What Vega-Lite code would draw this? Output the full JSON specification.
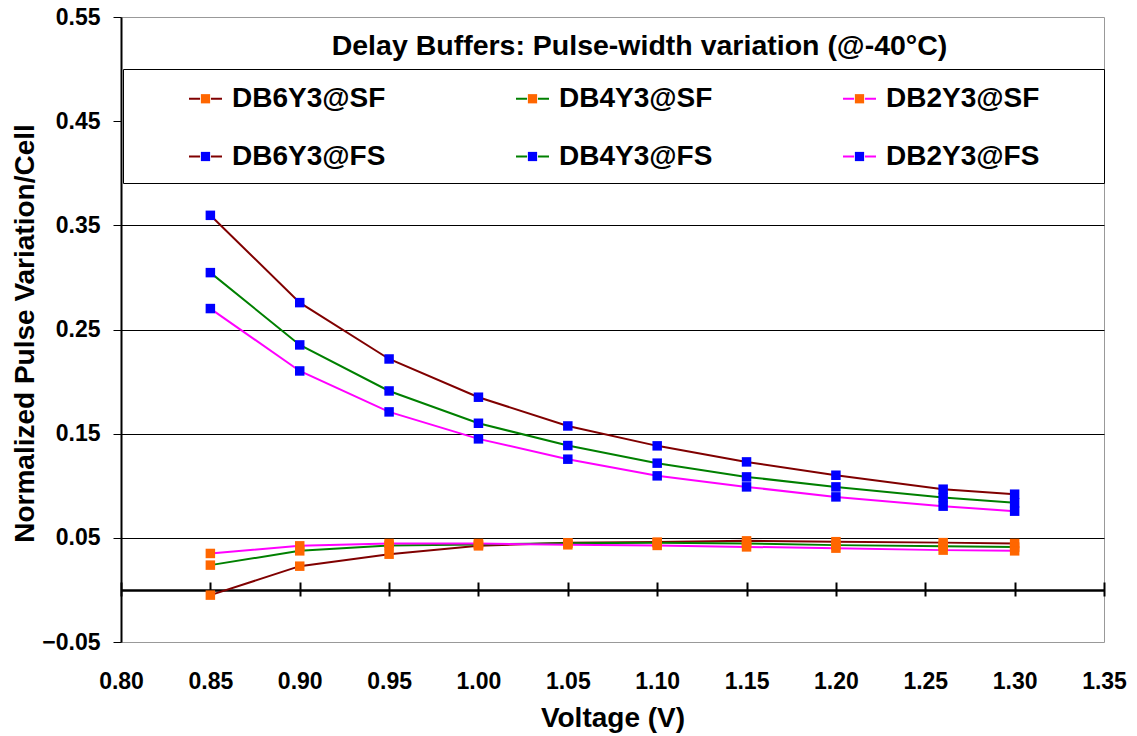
{
  "$schema": "https://vega.github.io/schema/vega-lite/v6.json",
  "width": 983,
  "height": 625,
  "autosize": {"type": "none"},
  "padding": {"left": 121, "top": 17, "right": 33, "bottom": 94},
  "background": "white",
  "title": {
    "text": "Delay Buffers: Pulse-width variation (@-40°C)",
    "orient": "top",
    "anchor": "middle",
    "offset": -77,
    "dx": 27,
    "baseline": "alphabetic",
    "font": "Liberation Sans",
    "fontSize": 28.5,
    "fontWeight": "bold",
    "color": "black"
  },
  "data": {
    "values": [
      {"V": 0.85, "value": -0.005, "series": "DB6Y3@SF"},
      {"V": 0.90, "value": 0.0228, "series": "DB6Y3@SF"},
      {"V": 0.95, "value": 0.0343, "series": "DB6Y3@SF"},
      {"V": 1.00, "value": 0.0423, "series": "DB6Y3@SF"},
      {"V": 1.05, "value": 0.0452, "series": "DB6Y3@SF"},
      {"V": 1.10, "value": 0.0459, "series": "DB6Y3@SF"},
      {"V": 1.15, "value": 0.0471, "series": "DB6Y3@SF"},
      {"V": 1.20, "value": 0.0463, "series": "DB6Y3@SF"},
      {"V": 1.26, "value": 0.0454, "series": "DB6Y3@SF"},
      {"V": 1.30, "value": 0.0446, "series": "DB6Y3@SF"},
      {"V": 0.85, "value": 0.0238, "series": "DB4Y3@SF"},
      {"V": 0.90, "value": 0.0375, "series": "DB4Y3@SF"},
      {"V": 0.95, "value": 0.0427, "series": "DB4Y3@SF"},
      {"V": 1.00, "value": 0.0435, "series": "DB4Y3@SF"},
      {"V": 1.05, "value": 0.0449, "series": "DB4Y3@SF"},
      {"V": 1.10, "value": 0.0452, "series": "DB4Y3@SF"},
      {"V": 1.15, "value": 0.0446, "series": "DB4Y3@SF"},
      {"V": 1.20, "value": 0.0430, "series": "DB4Y3@SF"},
      {"V": 1.26, "value": 0.0420, "series": "DB4Y3@SF"},
      {"V": 1.30, "value": 0.0411, "series": "DB4Y3@SF"},
      {"V": 0.85, "value": 0.0350, "series": "DB2Y3@SF"},
      {"V": 0.90, "value": 0.0423, "series": "DB2Y3@SF"},
      {"V": 0.95, "value": 0.0446, "series": "DB2Y3@SF"},
      {"V": 1.00, "value": 0.0446, "series": "DB2Y3@SF"},
      {"V": 1.05, "value": 0.0433, "series": "DB2Y3@SF"},
      {"V": 1.10, "value": 0.0427, "series": "DB2Y3@SF"},
      {"V": 1.15, "value": 0.0413, "series": "DB2Y3@SF"},
      {"V": 1.20, "value": 0.0401, "series": "DB2Y3@SF"},
      {"V": 1.26, "value": 0.0382, "series": "DB2Y3@SF"},
      {"V": 1.30, "value": 0.0375, "series": "DB2Y3@SF"},
      {"V": 0.85, "value": 0.3596, "series": "DB6Y3@FS"},
      {"V": 0.90, "value": 0.2758, "series": "DB6Y3@FS"},
      {"V": 0.95, "value": 0.2217, "series": "DB6Y3@FS"},
      {"V": 1.00, "value": 0.1850, "series": "DB6Y3@FS"},
      {"V": 1.05, "value": 0.1574, "series": "DB6Y3@FS"},
      {"V": 1.10, "value": 0.1383, "series": "DB6Y3@FS"},
      {"V": 1.15, "value": 0.1229, "series": "DB6Y3@FS"},
      {"V": 1.20, "value": 0.1101, "series": "DB6Y3@FS"},
      {"V": 1.26, "value": 0.0967, "series": "DB6Y3@FS"},
      {"V": 1.30, "value": 0.0919, "series": "DB6Y3@FS"},
      {"V": 0.85, "value": 0.3046, "series": "DB4Y3@FS"},
      {"V": 0.90, "value": 0.2352, "series": "DB4Y3@FS"},
      {"V": 0.95, "value": 0.1910, "series": "DB4Y3@FS"},
      {"V": 1.00, "value": 0.1600, "series": "DB4Y3@FS"},
      {"V": 1.05, "value": 0.1386, "series": "DB4Y3@FS"},
      {"V": 1.10, "value": 0.1217, "series": "DB4Y3@FS"},
      {"V": 1.15, "value": 0.1085, "series": "DB4Y3@FS"},
      {"V": 1.20, "value": 0.0989, "series": "DB4Y3@FS"},
      {"V": 1.26, "value": 0.0887, "series": "DB4Y3@FS"},
      {"V": 1.30, "value": 0.0836, "series": "DB4Y3@FS"},
      {"V": 0.85, "value": 0.2701, "series": "DB2Y3@FS"},
      {"V": 0.90, "value": 0.2102, "series": "DB2Y3@FS"},
      {"V": 0.95, "value": 0.1709, "series": "DB2Y3@FS"},
      {"V": 1.00, "value": 0.1450, "series": "DB2Y3@FS"},
      {"V": 1.05, "value": 0.1255, "series": "DB2Y3@FS"},
      {"V": 1.10, "value": 0.1095, "series": "DB2Y3@FS"},
      {"V": 1.15, "value": 0.0989, "series": "DB2Y3@FS"},
      {"V": 1.20, "value": 0.0893, "series": "DB2Y3@FS"},
      {"V": 1.26, "value": 0.0804, "series": "DB2Y3@FS"},
      {"V": 1.30, "value": 0.0756, "series": "DB2Y3@FS"}
    ]
  },
  "encoding": {
    "x": {
      "field": "V", "type": "quantitative",
      "scale": {"domain": [0.8, 1.35], "nice": false, "zero": false},
      "axis": {
        "orient": "bottom", "offset": -60,
        "values": [0.8, 0.85, 0.9, 0.95, 1.0, 1.05, 1.1, 1.15, 1.2, 1.25, 1.3, 1.35],
        "format": ".2f",
        "domain": false, "grid": false,
        "ticks": true, "tickSize": 14, "tickWidth": 2, "tickColor": "black",
        "labelFlush": false, "labelOverlap": false,
        "labelBaseline": "alphabetic", "labelPadding": 92,
        "labelFont": "Liberation Sans", "labelFontSize": 23, "labelFontWeight": "bold", "labelColor": "black",
        "title": "Voltage (V)",
        "titleFont": "Liberation Sans", "titleFontSize": 28, "titleFontWeight": "bold", "titleColor": "black",
        "titleBaseline": "alphabetic", "titleY": 144
      }
    },
    "y": {
      "field": "value", "type": "quantitative",
      "scale": {"domain": [-0.05, 0.55], "nice": false, "zero": false},
      "axis": {
        "values": [-0.05, 0, 0.05, 0.15, 0.25, 0.35, 0.45, 0.55],
        "format": ".2f",
        "labelExpr": "datum.value == 0 ? '' : datum.label",
        "domain": true, "domainColor": "black", "domainWidth": 2,
        "ticks": true, "tickSize": 8, "tickWidth": 1,
        "tickColor": {"condition": {"test": "datum.value == 0", "value": "transparent"}, "value": "black"},
        "grid": true,
        "gridColor": {"condition": {"test": "datum.value > 0.4 || datum.value < 0", "value": "transparent"}, "value": "black"},
        "gridWidth": {"condition": {"test": "datum.value == 0", "value": 2.5}, "value": 1},
        "gridOpacity": 1,
        "labelPadding": 13, "labelOverlap": false, "labelFlush": false,
        "labelFont": "Liberation Sans", "labelFontSize": 23, "labelFontWeight": "bold", "labelColor": "black",
        "title": "Normalized Pulse Variation/Cell",
        "titleFont": "Liberation Sans", "titleFontSize": 28, "titleFontWeight": "bold", "titleColor": "black",
        "titleAngle": 270, "titleAlign": "center", "titleBaseline": "alphabetic", "titleX": -88, "titleY": 316
      }
    }
  },
  "layer": [
    {
      "mark": {"type": "line", "strokeWidth": 2},
      "encoding": {
        "stroke": {
          "field": "series", "type": "nominal",
          "scale": {
            "domain": ["DB6Y3@SF", "DB4Y3@SF", "DB2Y3@SF", "DB6Y3@FS", "DB4Y3@FS", "DB2Y3@FS"],
            "range": ["#800000", "#008000", "#FF00FF", "#800000", "#008000", "#FF00FF"]
          },
          "legend": {
            "orient": "none", "legendX": 2, "legendY": 52,
            "direction": "horizontal",
            "columns": 3,
            "title": "\u2800", "titleOrient": "right", "titlePadding": 46, "titleFontSize": 10,
            "symbolType": "M-1,0H-0.33M0.33,0H1",
            "symbolSize": 1089, "symbolStrokeWidth": 2,
            "symbolOffset": 53, "labelOffset": 9,
            "columnPadding": 76, "rowPadding": 26, "padding": 12,
            "labelFont": "Liberation Sans", "labelFontSize": 28, "labelFontWeight": "bold", "labelColor": "black",
            "labelLimit": 400,
            "strokeColor": "black"
          }
        }
      }
    },
    {
      "mark": {"type": "point", "shape": "square", "filled": true, "size": 90, "opacity": 1},
      "encoding": {
        "fill": {
          "field": "series", "type": "nominal",
          "sort": ["DB6Y3@SF", "DB4Y3@SF", "DB2Y3@SF", "DB6Y3@FS", "DB4Y3@FS", "DB2Y3@FS"],
          "scale": {"range": ["#FF6600", "#FF6600", "#FF6600", "#0000FF", "#0000FF", "#0000FF"]},
          "legend": {
            "orient": "none", "legendX": 2, "legendY": 52,
            "direction": "horizontal",
            "columns": 3, "title": null,
            "symbolType": "M-0.28,-0.28H0.28V0.28H-0.28Z",
            "symbolSize": 1089, "symbolStrokeWidth": 2, "symbolStrokeColor": "transparent",
            "symbolOffset": 53, "labelOffset": 9,
            "columnPadding": 76, "rowPadding": 26, "padding": 12,
            "labelFont": "Liberation Sans", "labelFontSize": 28, "labelFontWeight": "bold", "labelColor": "black",
            "labelOpacity": 0,
            "labelLimit": 400
          }
        }
      }
    }
  ],
  "config": {
    "view": {"stroke": "#999999", "strokeWidth": 1},
    "font": "Liberation Sans"
  }
}
